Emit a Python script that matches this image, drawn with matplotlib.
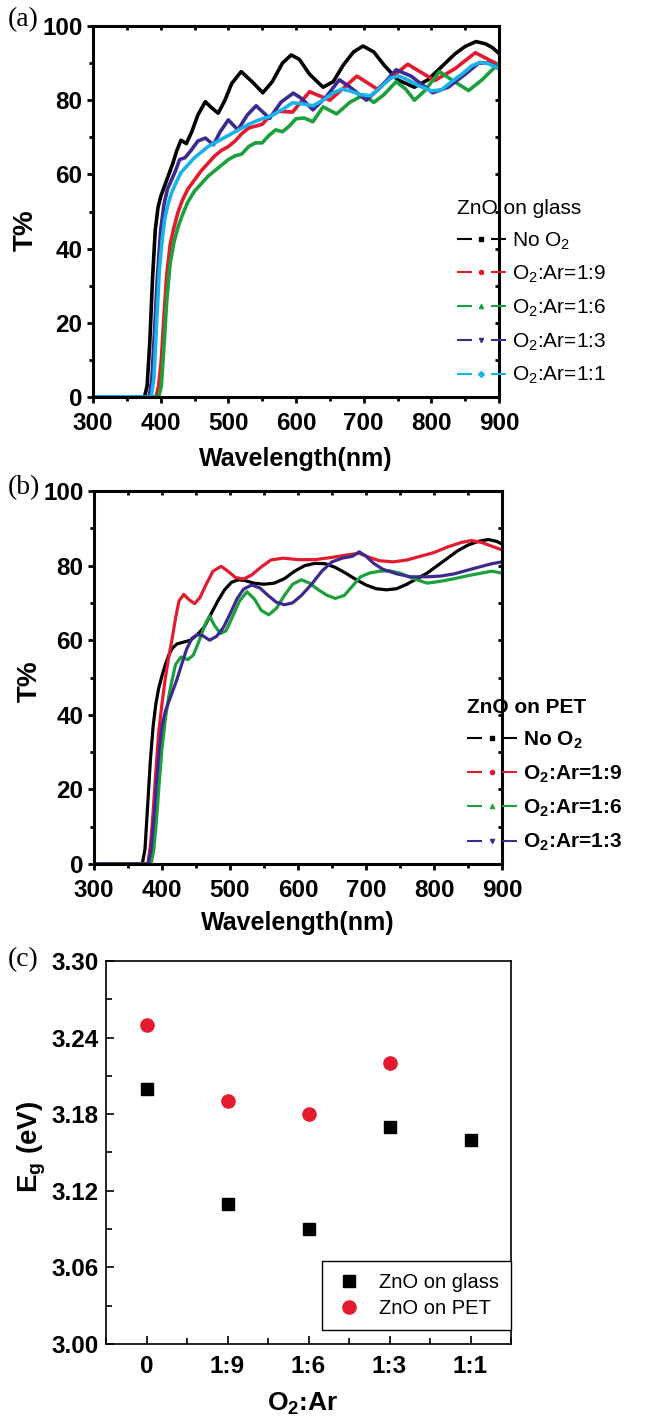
import matplotlib
matplotlib.use("Agg")
import matplotlib.pyplot as plt
from matplotlib.lines import Line2D
from matplotlib.legend_handler import HandlerBase
from matplotlib.ticker import MultipleLocator, FormatStrFormatter

# ---------------- data ----------------
# (a) ZnO on glass
wl_g0 = [300, 376, 380, 384, 388, 392, 396, 400, 405, 410, 418, 424, 430, 438, 446, 455, 466, 475, 485, 495, 505, 519, 535, 551, 565, 580, 593, 605, 620, 640, 655, 670, 685, 699, 715, 730, 750, 775, 795, 815, 835, 850, 866, 880, 890, 900]
t_g0 = [0, 0, 3, 15, 32, 45, 51, 54, 56.5, 59, 63, 66.5, 69.2, 68.3, 71.5, 76, 79.6, 78, 76.5, 80, 84.5, 87.7, 85, 82, 85, 90, 92.2, 91, 87, 83.5, 85, 89.5, 93, 94.6, 93, 89.5, 85.5, 83.5, 85.5, 89, 92.5, 94.5, 95.8, 95.2, 94.2, 92.6]

wl_g9 = [300, 393, 397, 401, 405, 409, 414, 420, 426, 432, 440, 450, 460, 470, 480, 490, 500, 510, 520, 530, 540, 550, 560, 575, 595, 620, 650, 690, 720, 765, 805, 835, 865, 900]
t_g9 = [0, 0, 3, 10, 22, 33, 41, 46, 50, 53, 56, 58.5, 61, 63, 65, 66.5, 67.5, 69, 71, 72.5, 73, 73.5, 75.5, 77, 76.8, 82.3, 80, 86.5, 83, 89.7, 85.3, 88.5, 92.8, 89.5]

wl_g6 = [300, 397, 401, 405, 409, 414, 420, 426, 432, 440, 450, 460, 470, 480, 490, 500, 510, 520, 530, 540, 550, 560, 570, 580, 590, 600, 612, 625, 640, 660, 680, 700, 715, 730, 748, 762, 775, 790, 812, 830, 855, 875, 900]
t_g6 = [0, 0, 3, 14, 26, 36, 42, 46, 49, 52.5, 55.5, 57.5, 59.5, 61, 62.5, 64, 65, 65.5, 67.5, 68.5, 68.5, 70.5, 72, 71.5, 73, 75, 75.2, 74.2, 78.2, 76.3, 79.5, 81.4, 79.4, 81.5, 85, 83, 80, 82.5, 87.7, 85.5, 82.6, 85.5, 90]

wl_g3 = [300, 383, 387, 391, 395, 400, 405, 410, 416, 422, 428, 436, 445, 455, 466, 478, 488, 500, 514, 528, 541, 561, 578, 596, 608, 625, 645, 664, 680, 704, 725, 748, 770, 802, 825, 850, 870, 885, 900]
t_g3 = [0, 0, 5, 18, 32, 45, 52, 56, 58.5, 61, 64, 64.5, 66.5, 69, 69.8, 68, 71.5, 74.7, 72, 76, 78.5, 75.1, 79.5, 81.9, 80.5, 77.4, 81, 85.5, 83.5, 80, 83.5, 88.2, 86.5, 82, 83.5, 87, 90, 90, 88.5]

wl_g1 = [300, 386, 390, 394, 398, 402, 406, 411, 416, 422, 430, 440, 450, 460, 470, 480, 490, 500, 510, 520, 530, 540, 550, 560, 570, 580, 595, 610, 625, 640, 655, 668, 680, 695, 710, 725, 740, 752, 765, 780, 800, 815, 830, 845, 860, 872, 885, 900]
t_g1 = [0, 0, 5, 20, 34, 42, 48, 52, 55, 57.5, 60.5, 62.5, 64.5, 66, 67.5, 68.5, 69.5, 70.5, 71.5, 72.5, 73.5, 74.3, 75, 75.5, 76.5, 77.5, 79.3, 79, 78.5, 80, 82, 83, 82.5, 81.5, 81.2, 83.5, 86, 86.5, 85.5, 84, 82.5, 82.8, 85, 87, 89.3, 90.2, 89.8, 88.5]

# (b) ZnO on PET
wl_p0 = [300, 371, 375, 379, 383, 387, 391, 395, 400, 405, 410, 415, 422, 432, 442, 452, 462, 472, 482, 492, 502, 512, 522, 535, 550, 565, 580, 595, 610, 625, 640, 655, 670, 685, 700, 715, 730, 745, 760, 775, 790, 805, 820, 835, 850, 865, 880, 892, 900]
t_p0 = [0, 0, 4, 16, 28, 37, 43, 47, 50.5, 53.5, 56, 57.8, 59, 59.5, 60, 61.5, 63.5, 67, 70.5, 73.5, 75.5, 76.2, 76, 75.3, 75, 75.3, 76.5, 78.5, 80, 80.6, 80.5, 79.5, 78, 76.3, 74.8, 73.8, 73.5, 73.8, 75, 76.5, 78, 80, 82, 84, 85.5, 86.5, 87, 86.5, 85.8]

wl_p9 = [300, 379, 383, 387, 391, 395, 400, 405, 410, 415, 420, 425, 432, 440, 448, 456, 465, 475, 487, 497, 508, 520, 532, 545, 560, 578, 600, 625, 650, 670, 690, 705, 720, 740, 760, 780, 800, 820, 840, 855, 870, 885, 900]
t_p9 = [0, 0, 5, 14, 25, 35, 43, 50, 55.5, 60.5, 66, 70.5, 72.3, 70.8, 69.8, 71.5, 75, 78.5, 79.8, 78.5, 76.8, 76.4, 77.5, 79.5, 81.5, 82, 81.6, 81.6, 82.2, 82.8, 83.3, 82.2, 81.3, 81, 81.5, 82.5, 83.5, 85, 86.2, 86.7, 86.2, 85.2, 84.2]

wl_p6 = [300, 384, 388, 392, 396, 400, 405, 410, 415, 420, 428, 438, 446, 455, 464, 470, 477, 486, 494, 503, 514, 525, 536, 546, 557, 568, 580, 592, 605, 617, 630, 643, 655, 668, 680, 692, 705, 720, 735, 750, 770, 790, 810, 830, 850, 870, 885, 900]
t_p6 = [0, 0, 4, 12, 22, 31, 39, 45, 49.5, 53.5, 55.5, 54.8, 56, 60, 64.5, 66.5, 64, 61.8, 62.5, 66, 70.5, 73, 71, 68, 66.8, 68.5, 72, 75, 76.2, 75.3, 73.5, 72, 71.2, 72, 74.5, 77, 78, 78.5, 78.6, 78, 76.5, 75.3, 75.8, 76.5, 77.3, 78, 78.5, 78]

wl_p3 = [300, 380, 384, 388, 392, 396, 400, 405, 410, 416, 422, 428, 436, 444, 452, 460, 470, 480, 490, 500, 510, 520, 532, 544, 556, 568, 580, 592, 605, 620, 635, 650, 665, 680, 690, 700, 712, 725, 745, 765, 790, 810, 830, 850, 870, 885, 900]
t_p3 = [0, 0, 4, 12, 22, 31, 37, 41, 43.5, 46.5, 49.5, 53, 57.5, 60.5, 61.5, 61.2, 60, 61, 63.3, 67, 71, 73.7, 74.8, 74, 72, 70.2, 69.5, 70, 72, 75, 78.5, 81, 82, 82.5, 83.7, 82.5, 80.5, 79, 77.8, 77, 77, 77.2, 77.8, 78.8, 79.8, 80.5, 81]

# (c) band gap
ratios = ["0", "1:9", "1:6", "1:3", "1:1"]
eg_glass = [3.20, 3.11, 3.09, 3.17, 3.16]
eg_pet = [3.25, 3.19, 3.18, 3.22]

sub2 = "$_\\mathregular{2}$"
labels = ["No O" + sub2, "O" + sub2 + ":Ar=1:9", "O" + sub2 + ":Ar=1:6",
          "O" + sub2 + ":Ar=1:3", "O" + sub2 + ":Ar=1:1"]

BLACK = "#000000"
RED = "#e41b2f"
GREEN = "#1ba03c"
PURPLE = "#3e2a8e"
CYAN = "#17b3ea"
MARKERS = ["s", "o", "^", "v", "D"]

plt.rcParams["font.family"] = ["Liberation Sans", "DejaVu Sans"]
plt.rcParams["mathtext.fontset"] = "custom"
plt.rcParams["mathtext.rm"] = "Liberation Sans"
plt.rcParams["mathtext.bf"] = "Liberation Sans:bold"


class GapHandler(HandlerBase):
    # Origin style legend key: line - marker - line
    def create_artists(self, legend, orig, xd, yd, w, h, fontsize, trans):
        y = h / 2 - yd
        x0 = -xd
        x1 = x0 + w
        seg = w * 0.3
        c = orig.get_color()
        a = Line2D([x0, x0 + seg], [y, y], color=c, lw=1.5, solid_capstyle="butt")
        b = Line2D([x1 - seg, x1], [y, y], color=c, lw=1.5, solid_capstyle="butt")
        m = Line2D([(x0 + x1) / 2], [y], color=c, marker=orig.get_marker(), ms=3, ls="none")
        for art in (a, b, m):
            art.set_transform(trans)
        return [a, b, m]


def spectra_axes(ax):
    ax.set_xlim(300, 900)
    ax.set_ylim(0, 100)
    ax.xaxis.set_major_locator(MultipleLocator(100))
    ax.xaxis.set_minor_locator(MultipleLocator(50))
    ax.yaxis.set_major_locator(MultipleLocator(20))
    ax.yaxis.set_minor_locator(MultipleLocator(10))
    for s in ax.spines.values():
        s.set_linewidth(2.2)
    ax.tick_params(which="both", direction="out", width=2)
    ax.tick_params(which="major", length=4.5)
    ax.tick_params(which="minor", length=3)
    ax.tick_params(axis="x", pad=6)
    ax.tick_params(axis="y", pad=3)
    for lab in ax.get_xticklabels() + ax.get_yticklabels():
        lab.set_fontweight("bold")
        lab.set_fontsize(17.5)
    # inward ticks on top / right
    top = ax.secondary_xaxis("top")
    top.xaxis.set_major_locator(MultipleLocator(100))
    top.xaxis.set_minor_locator(MultipleLocator(50))
    top.tick_params(which="both", direction="in", labeltop=False, width=2, length=3)
    right = ax.secondary_yaxis("right")
    right.yaxis.set_major_locator(MultipleLocator(20))
    right.yaxis.set_minor_locator(MultipleLocator(10))
    right.tick_params(which="both", direction="in", labelright=False, width=2, length=3)
    ax.set_xlabel("Wavelength(nm)", fontweight="bold", fontsize=18)
    ax.set_ylabel("T%", fontweight="bold", fontsize=20)
    ax.xaxis.label.set_va("center")
    ax.yaxis.label.set_va("center")


fig = plt.figure(figsize=(6.53, 14.23), dpi=100)

# ---------------- (a) ----------------
ax1 = fig.add_axes([93 / 653, 1 - 397 / 1423, 406 / 653, 371 / 1423])
glass = [(wl_g0, t_g0, BLACK), (wl_g9, t_g9, RED), (wl_g6, t_g6, GREEN),
         (wl_g3, t_g3, PURPLE), (wl_g1, t_g1, CYAN)]
handles = []
for (wl, t, c), mk, lab in zip(glass, MARKERS, labels):
    ln, = ax1.plot(wl, t, color=c, lw=2.6, marker=mk, ms=0, label=lab)
    handles.append(ln)
spectra_axes(ax1)
ax1.xaxis.set_label_coords(0.5, -0.168)
ax1.yaxis.set_label_coords(-0.165, 0.45)
ax1.legend(handles=handles, handler_map={Line2D: GapHandler()}, title="ZnO on glass",
           loc="upper left", bbox_to_anchor=(457 / 653, 1 - 199 / 1423),
           bbox_transform=fig.transFigure, frameon=False, fontsize=15,
           title_fontsize=15, alignment="left", borderpad=0, borderaxespad=0,
           handlelength=2.35, handletextpad=0.3, labelspacing=0.58)
fig.text(8 / 653, 1 - 20 / 1423, "(a)", family="Liberation Serif", fontsize=20, va="center")

# ---------------- (b) ----------------
ax2 = fig.add_axes([94 / 653, 1 - 864 / 1423, 408 / 653, 373 / 1423])
pet = [(wl_p0, t_p0, BLACK), (wl_p9, t_p9, RED), (wl_p6, t_p6, GREEN), (wl_p3, t_p3, PURPLE)]
handles = []
for (wl, t, c), mk, lab in zip(pet, MARKERS, labels):
    ln, = ax2.plot(wl, t, color=c, lw=2.3, marker=mk, ms=0, label=lab)
    handles.append(ln)
spectra_axes(ax2)
ax2.xaxis.set_label_coords(0.5, -0.158)
ax2.yaxis.set_label_coords(-0.157, 0.49)
ax2.legend(handles=handles, handler_map={Line2D: GapHandler()}, title="ZnO on PET",
           loc="upper left", bbox_to_anchor=(467 / 653, 1 - 698 / 1423),
           bbox_transform=fig.transFigure, frameon=False,
           prop={"weight": "bold", "size": 15},
           title_fontproperties={"weight": "bold", "size": 15}, alignment="left",
           borderpad=0, borderaxespad=0, handlelength=2.4, handletextpad=0.3,
           labelspacing=0.6)
fig.text(8 / 653, 1 - 488 / 1423, "(b)", family="Liberation Serif", fontsize=20, va="center")

# ---------------- (c) ----------------
ax3 = fig.add_axes([106 / 653, 1 - 1344 / 1423, 405 / 653, 383 / 1423])
xpos = list(range(len(ratios)))
ax3.plot(xpos, eg_glass, ls="none", marker="s", ms=8, color="black", label="ZnO on glass")
ax3.plot(xpos[:len(eg_pet)], eg_pet, ls="none", marker="o", ms=9.5, color=RED, label="ZnO on PET")
ax3.set_xlim(-0.5, 4.5)
ax3.set_ylim(3.00, 3.30)
ax3.set_xticks(xpos)
ax3.set_xticklabels(ratios)
ax3.xaxis.set_minor_locator(MultipleLocator(0.5))
ax3.yaxis.set_major_locator(MultipleLocator(0.06))
ax3.yaxis.set_minor_locator(MultipleLocator(0.03))
ax3.yaxis.set_major_formatter(FormatStrFormatter("%.2f"))
for s in ax3.spines.values():
    s.set_linewidth(1.2)
ax3.tick_params(which="both", direction="in", width=1.2)
ax3.tick_params(which="major", length=6)
ax3.tick_params(which="minor", length=4)
ax3.tick_params(axis="x", pad=8)
ax3.tick_params(axis="y", pad=5)
for lab in ax3.get_xticklabels() + ax3.get_yticklabels():
    lab.set_fontweight("bold")
    lab.set_fontsize(17.5)
ax3.set_xlabel("O" + sub2 + ":Ar", fontweight="bold", fontsize=19, va="center")
ax3.set_ylabel("E$_\\mathregular{g}$ (eV)", fontweight="bold", fontsize=20, va="center")
ax3.xaxis.set_label_coords(0.485, -0.155)
ax3.yaxis.set_label_coords(-0.183, 0.514)
leg3 = ax3.legend(loc="lower right", bbox_to_anchor=(1.0, 0.037), borderaxespad=0,
                  fontsize=14.5, fancybox=False, edgecolor="black", framealpha=1,
                  handletextpad=0.75, borderpad=0.6, labelspacing=0.35, handlelength=1.5)
leg3.get_frame().set_linewidth(1.0)
fig.text(8 / 653, 1 - 960 / 1423, "(c)", family="Liberation Serif", fontsize=20, va="center")

fig.savefig("out.png", dpi=100)
